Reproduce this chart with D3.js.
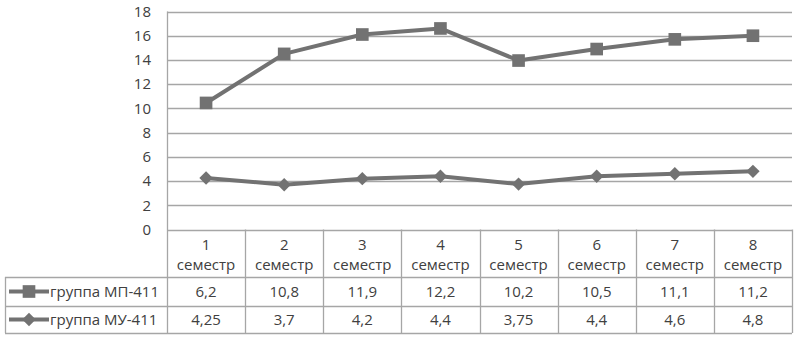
<!DOCTYPE html>
<html>
<head>
<meta charset="utf-8">
<script src="https://cdn.jsdelivr.net/npm/d3@7"></script>
<style>
  body { margin: 0; background: #fff; }
  text { font-family: "Open Sans", Lato, sans-serif; fill: #404040; }
</style>
</head>
<body>
<div id="chart"></div>
<script>
// data
var semesters = ["1", "2", "3", "4", "5", "6", "7", "8"];
var catWord = "семестр";
var seriesNames = ["группа МП-411", "группа МУ-411"];
var mpValues = [6.2, 10.8, 11.9, 12.2, 10.2, 10.5, 11.1, 11.2];
var muValues = [4.25, 3.7, 4.2, 4.4, 3.75, 4.4, 4.6, 4.8];
var yTicks = [0, 2, 4, 6, 8, 10, 12, 14, 16, 18];

var W = 797, H = 339;
var plotLeft = 167, plotRight = 792, plotTop = 11.5, plotBottom = 229.5;
var tableLeft = 5, headBottom = 277, row1Bottom = 306, row2Bottom = 333;
var grid = "#a6a6a6", lineCol = "#727272";
var fs = "15px";

// stacked line chart: МУ on the bottom, МП on top of it
var rows = semesters.map(function(s, i) { return {sem: s, mp: mpValues[i], mu: muValues[i]}; });
var stacked = d3.stack().keys(["mu", "mp"])(rows);

var svg = d3.select("#chart").append("svg")
  .attr("width", W).attr("height", H);

var x = d3.scaleBand().domain(semesters).range([plotLeft, plotRight]);
var y = d3.scaleLinear().domain([0, 18]).range([plotBottom, plotTop]);

// horizontal gridlines
svg.selectAll("line.grid")
  .data(yTicks)
  .enter().append("line")
    .attr("class", "grid")
    .attr("x1", plotLeft).attr("x2", plotRight)
    .attr("y1", function(d) { return Math.round(y(d)) + 0.5; })
    .attr("y2", function(d) { return Math.round(y(d)) + 0.5; })
    .attr("stroke", grid).attr("stroke-width", 1.3);

// y axis line
svg.append("line")
  .attr("x1", plotLeft + 0.5).attr("x2", plotLeft + 0.5)
  .attr("y1", plotTop).attr("y2", row2Bottom)
  .attr("stroke", grid).attr("stroke-width", 1.3);

// y tick labels
svg.selectAll("text.ytick")
  .data(yTicks)
  .enter().append("text")
    .attr("class", "ytick")
    .attr("x", 151)
    .attr("y", function(d) { return y(d); })
    .attr("dy", "0.35em")
    .attr("text-anchor", "end")
    .style("font-size", fs)
    .text(function(d) { return d; });

// data table grid
var colEdges = semesters.map(function(s) { return x(s); }).concat([plotRight]);
svg.selectAll("line.col")
  .data(colEdges.slice(1))
  .enter().append("line")
    .attr("class", "col")
    .attr("x1", function(d) { return Math.round(d) + 0.5; })
    .attr("x2", function(d) { return Math.round(d) + 0.5; })
    .attr("y1", plotBottom).attr("y2", row2Bottom)
    .attr("stroke", grid).attr("stroke-width", 1.3);

[headBottom, row1Bottom, row2Bottom].forEach(function(yy) {
  svg.append("line")
    .attr("x1", tableLeft).attr("x2", plotRight)
    .attr("y1", yy + 0.5).attr("y2", yy + 0.5)
    .attr("stroke", grid).attr("stroke-width", 1.3);
});
svg.append("line")
  .attr("x1", tableLeft + 0.5).attr("x2", tableLeft + 0.5)
  .attr("y1", headBottom).attr("y2", row2Bottom)
  .attr("stroke", grid).attr("stroke-width", 1.3);

// category labels
var cat = svg.selectAll("g.cat")
  .data(semesters)
  .enter().append("g")
    .attr("class", "cat")
    .attr("transform", function(d) { return "translate(" + (x(d) + x.bandwidth() / 2) + ",0)"; });
cat.append("text").attr("y", 250).attr("text-anchor", "middle")
  .style("font-size", fs).text(function(d) { return d; });
cat.append("text").attr("y", 270).attr("text-anchor", "middle")
  .style("font-size", fs).text(catWord);

// table values
var fmt = function(v) { return String(v).replace(".", ","); };
[[mpValues, (headBottom + row1Bottom) / 2], [muValues, (row1Bottom + row2Bottom) / 2]].forEach(function(r) {
  svg.selectAll(null)
    .data(r[0])
    .enter().append("text")
      .attr("x", function(d, i) { return x(semesters[i]) + x.bandwidth() / 2; })
      .attr("y", r[1])
      .attr("dy", "0.35em")
      .attr("text-anchor", "middle")
      .style("font-size", fs)
      .text(fmt);
});

// markers: square and a square turned 45 degrees
var square = d3.symbol().type(d3.symbolSquare).size(160)();
var diamond = d3.symbol().type(d3.symbolSquare).size(90)();
var markers = [
  {d: square, rot: 0},
  {d: diamond, rot: 45}
];

// legend keys in table
[[seriesNames[0], markers[0], (headBottom + row1Bottom) / 2], [seriesNames[1], markers[1], (row1Bottom + row2Bottom) / 2]].forEach(function(k) {
  svg.append("line")
    .attr("x1", 9).attr("x2", 49).attr("y1", k[2]).attr("y2", k[2])
    .attr("stroke", lineCol).attr("stroke-width", 4);
  svg.append("path")
    .attr("d", k[1].d)
    .attr("transform", "translate(29," + k[2] + ") rotate(" + k[1].rot + ")")
    .attr("fill", lineCol);
  svg.append("text")
    .attr("x", 50).attr("y", k[2]).attr("dy", "0.35em")
    .style("font-size", fs)
    .text(k[0]);
});

// lines
var line = d3.line()
  .x(function(d) { return x(d.data.sem) + x.bandwidth() / 2; })
  .y(function(d) { return y(d[1]); });

var layers = [
  {s: stacked[1], m: markers[0]},
  {s: stacked[0], m: markers[1]}
];
layers.forEach(function(l) {
  svg.append("path")
    .datum(l.s)
    .attr("d", line)
    .attr("fill", "none")
    .attr("stroke", lineCol)
    .attr("stroke-width", 4)
    .attr("stroke-linejoin", "round");
  svg.selectAll(null)
    .data(l.s)
    .enter().append("path")
      .attr("d", l.m.d)
      .attr("transform", function(d) { return "translate(" + (x(d.data.sem) + x.bandwidth() / 2) + "," + y(d[1]) + ") rotate(" + l.m.rot + ")"; })
      .attr("fill", lineCol);
});
</script>
</body>
</html>
